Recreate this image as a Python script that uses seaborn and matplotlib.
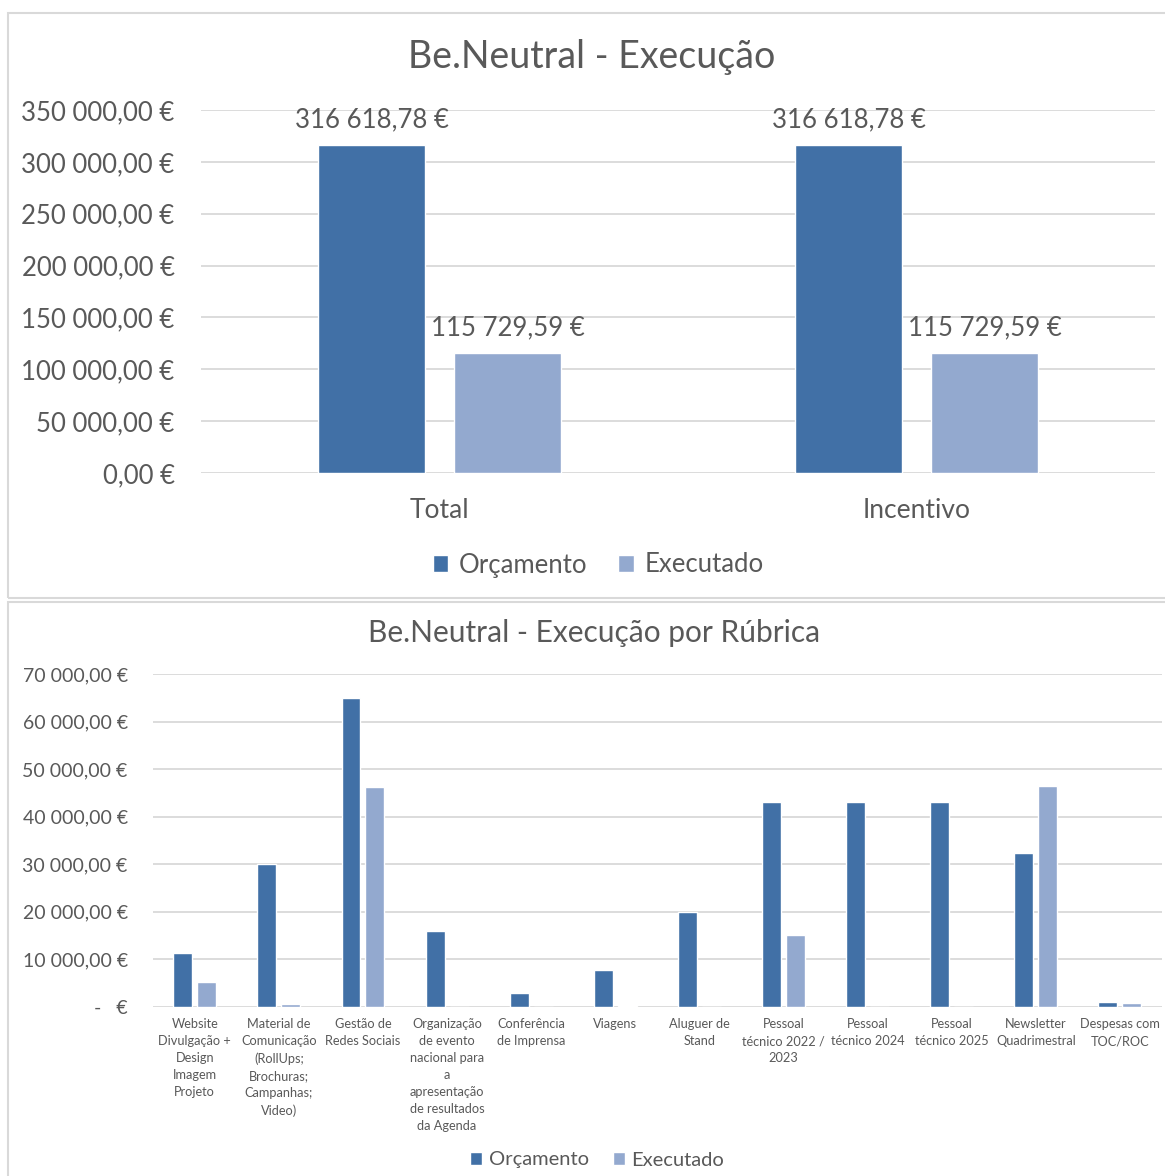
import pandas as pd
import seaborn as sns
import matplotlib.pyplot as plt
from matplotlib.patches import Rectangle
from matplotlib.ticker import FuncFormatter, MultipleLocator

# Top chart: totals
resumo_categorias = ["Total", "Incentivo"]
resumo_orcamento = [316618.78, 316618.78]
resumo_executado = [115729.59, 115729.59]

# Bottom chart: per budget line
rubricas = [
    "Website\nDivulgação +\nDesign\nImagem\nProjeto",
    "Material de\nComunicação\n(RollUps;\nBrochuras;\nCampanhas;\nVideo)",
    "Gestão de\nRedes Sociais",
    "Organização\nde evento\nnacional para\na\napresentação\nde resultados\nda Agenda",
    "Conferência\nde Imprensa",
    "Viagens",
    "Aluguer de\nStand",
    "Pessoal\ntécnico 2022 /\n2023",
    "Pessoal\ntécnico 2024",
    "Pessoal\ntécnico 2025",
    "Newsletter\nQuadrimestral",
    "Despesas com\nTOC/ROC",
]
rubrica_orcamento = [11400, 30000, 64900, 16000, 2900, 7700, 20000, 43000, 43000, 43000, 32400, 1100]
rubrica_executado = [5300, 600, 46200, 0, 0, 250, 0, 15100, 0, 0, 46500, 900]

series = ["Orçamento", "Executado"]
cores = ["#4170A6", "#93A9CF"]
texto = "#595959"
grelha = "#D9D9D9"


def long_df(cats, orc, exe):
    return pd.DataFrame({
        "categoria": list(cats) * 2,
        "serie": [series[0]] * len(cats) + [series[1]] * len(cats),
        "valor": list(orc) + list(exe),
    })


def euro(v, pos=None):
    return f"{v:,.2f}".replace(",", " ").replace(".", ",") + " €"


def euro_contab(v, pos=None):
    if abs(v) < 1e-9:
        return "-   €"
    return euro(v)


sns.set_theme(style="white")
plt.rcParams['font.family'] = ['Lato', 'DejaVu Sans']

W, H = 1165, 1176
fig = plt.figure(figsize=(W / 100, H / 100), dpi=100)

# panel borders
fig.patches.append(Rectangle((8 / W, 1 - 598 / H), 1.1, (598 - 13) / H, transform=fig.transFigure,
                             fill=False, edgecolor=grelha, linewidth=1.5))
fig.patches.append(Rectangle((8 / W, -0.1), 1.1, 0.1 + 1 - 602 / H, transform=fig.transFigure,
                             fill=False, edgecolor=grelha, linewidth=1.5))


def style_axes(ax):
    for s in ax.spines.values():
        s.set_visible(False)
    ax.grid(axis="y", color=grelha, linewidth=1.3)
    ax.set_axisbelow(True)
    ax.set_xlabel("")
    ax.set_ylabel("")
    ax.tick_params(length=0, colors=texto)


# ---- top chart ----
ax1 = fig.add_axes([201 / W, 1 - 473 / H, (1155 - 201) / W, (473 - 110) / H])
sns.barplot(data=long_df(resumo_categorias, resumo_orcamento, resumo_executado),
            x="categoria", y="valor", hue="serie", hue_order=series, palette=cores,
            saturation=1, width=0.57, gap=0.21, errorbar=None, ax=ax1)
style_axes(ax1)
ax1.set_xlim(-0.5, 1.5)
ax1.set_ylim(0, 350000)
ax1.yaxis.set_major_locator(MultipleLocator(50000))
ax1.yaxis.set_major_formatter(FuncFormatter(euro))
ax1.tick_params(axis="y", labelsize=18.5, pad=19)
ax1.tick_params(axis="x", labelsize=19, pad=18)
for c in ax1.containers:
    ax1.bar_label(c, labels=[euro(v) for v in c.datavalues], padding=9, fontsize=18.5, color=texto)
h, l = ax1.get_legend_handles_labels()
ax1.legend(h, l, loc="center", bbox_to_anchor=(598 / W, 1 - 565 / H), bbox_transform=fig.transFigure,
           ncol=2, frameon=False, fontsize=18.5, handlelength=0.62, handleheight=0.62,
           handletextpad=0.4, columnspacing=1.2, labelcolor=texto)
fig.text(592 / W, 1 - 57 / H, "Be.Neutral - Execução", ha="center", va="center",
         fontsize=27, color=texto)

# ---- bottom chart ----
ax2 = fig.add_axes([152.7 / W, 1 - 1007 / H, (1162 - 152.7) / W, (1007 - 674) / H])
sns.barplot(data=long_df(rubricas, rubrica_orcamento, rubrica_executado),
            x="categoria", y="valor", hue="serie", hue_order=series, palette=cores,
            saturation=1, width=0.57, gap=0.21, errorbar=None, ax=ax2)
style_axes(ax2)
ax2.set_xlim(-0.5, 11.5)
ax2.set_ylim(0, 70000)
ax2.yaxis.set_major_locator(MultipleLocator(10000))
ax2.yaxis.set_major_formatter(FuncFormatter(euro_contab))
ax2.tick_params(axis="y", labelsize=14, pad=18)
ax2.tick_params(axis="x", labelsize=9.2, pad=8)
for t in ax2.get_xticklabels():
    t.set_linespacing(1.5)
    t.set_va("top")
h, l = ax2.get_legend_handles_labels()
ax2.legend(h, l, loc="center", bbox_to_anchor=(597 / W, 1 - 1160 / H), bbox_transform=fig.transFigure,
           ncol=2, frameon=False, fontsize=14.5, handlelength=0.6, handleheight=0.6,
           handletextpad=0.3, columnspacing=1.2, labelcolor=texto)
fig.text(594 / W, 1 - 633 / H, "Be.Neutral - Execução por Rúbrica", ha="center", va="center",
         fontsize=21.5, color=texto)

fig.savefig("out.png", dpi=100)
